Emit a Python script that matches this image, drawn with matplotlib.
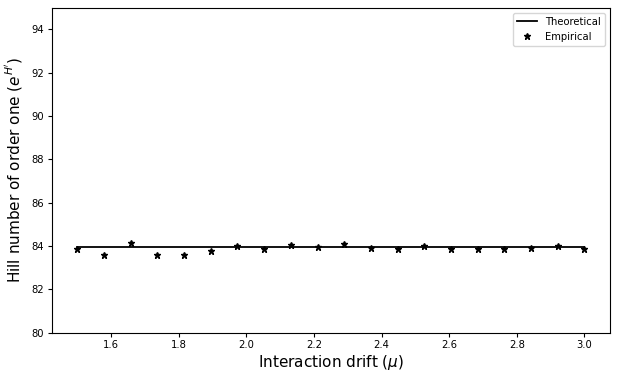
import numpy as np
import matplotlib
matplotlib.use("Agg")
import matplotlib.pyplot as plt

# interaction drift values (20 runs between 1.5 and 3.0)
mu = np.linspace(1.5, 3.0, 20)
theoretical = [83.95] * len(mu)
empirical = [83.87, 83.60, 84.14, 83.60, 83.60, 83.77, 84.00, 83.87, 84.05, 83.96,
             84.10, 83.91, 83.87, 84.00, 83.87, 83.87, 83.87, 83.91, 84.00, 83.87]

fig = plt.figure(figsize=(6.17, 3.8), dpi=100)
ax = fig.add_axes([0.0843, 0.1245, 0.904, 0.855])
ax.plot(mu, theoretical, "-", color="black", lw=1.3, label="Theoretical")
ax.plot(mu, empirical, "*", color="black", ms=5, ls="none", label="Empirical")
ax.set_ylim(80, 95)
ax.set_xlabel(r"Interaction drift ($\mu$)", fontsize=11, labelpad=2)
ax.set_ylabel(r"Hill number of order one ($e^{H'}$)", fontsize=11, labelpad=5)
ax.tick_params(labelsize=7.2, length=3, pad=2.5)
ax.legend(fontsize=7.2, loc="upper right")
fig.savefig("out.png", dpi=100)
